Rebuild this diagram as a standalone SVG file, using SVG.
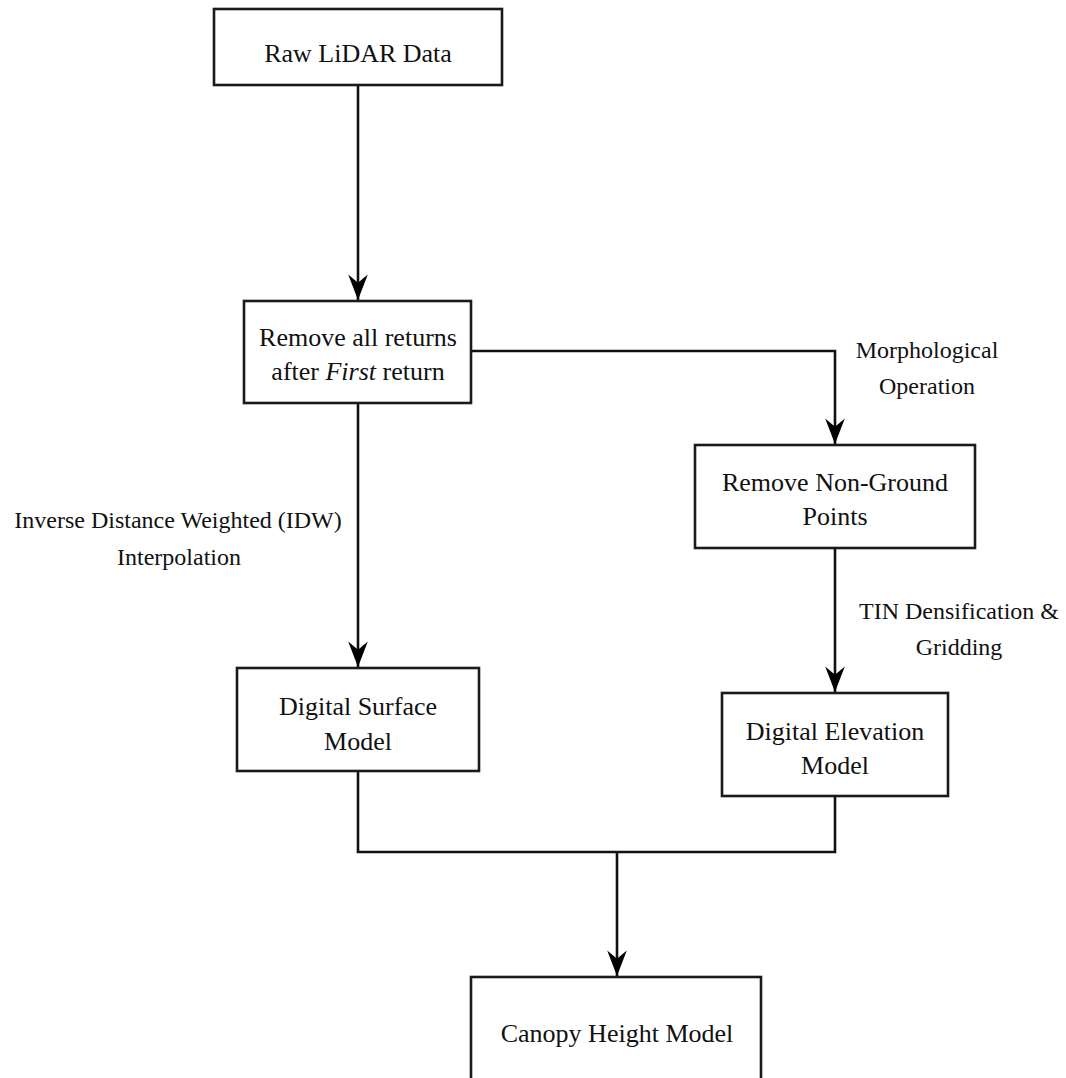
<svg xmlns="http://www.w3.org/2000/svg" width="1066" height="1078" viewBox="0 0 1066 1078">
<style>
.box{fill:#fff;stroke:#1a1a1a;stroke-width:2.6}
.t{font-family:"Liberation Serif","Times New Roman",serif;font-size:26px;fill:#111;text-anchor:middle}
.l{font-family:"Liberation Serif","Times New Roman",serif;font-size:24px;fill:#111;text-anchor:middle}
.c{fill:none;stroke:#111;stroke-width:2.6}
</style>
<defs>
<marker id="arr" markerUnits="userSpaceOnUse" markerWidth="30" markerHeight="30" viewBox="-24 -12 26 24" refX="0" refY="0" orient="auto">
<path d="M0,0 L-22,-8.5 L-15,0 L-22,8.5 Z" fill="#000"/>
</marker>
</defs>
<rect width="1066" height="1078" fill="#fff"/>
<g id="connectors">
<path class="c" d="M358,85 V300" marker-end="url(#arr)"/>
<path class="c" d="M471,351 H835 V444" marker-end="url(#arr)"/>
<path class="c" d="M358,403 V667" marker-end="url(#arr)"/>
<path class="c" d="M835,548 V692" marker-end="url(#arr)"/>
<path class="c" d="M358,771 V852 H835 V796"/>
<path class="c" d="M617,852 V976" marker-end="url(#arr)"/>
</g>
<g id="labels">
<text class="l" x="927" y="358">Morphological</text>
<text class="l" x="927" y="394">Operation</text>
<text class="l" x="178" y="528">Inverse Distance Weighted (IDW)</text>
<text class="l" x="179" y="565">Interpolation</text>
<text class="l" x="959" y="619">TIN Densification &amp;</text>
<text class="l" x="959" y="655">Gridding</text>
</g>
<g id="raw">
<rect class="box" x="214" y="9" width="288" height="76"/>
<text class="t" x="358" y="62">Raw LiDAR Data</text>
</g>
<g id="firstreturn">
<rect class="box" x="244" y="301" width="227" height="102"/>
<text class="t" x="358" y="346">Remove all returns</text>
<text class="t" x="358" y="380">after <tspan font-style="italic">First</tspan> return</text>
</g>
<g id="nonground">
<rect class="box" x="695" y="445" width="280" height="103"/>
<text class="t" x="835" y="491">Remove Non-Ground</text>
<text class="t" x="835" y="525">Points</text>
</g>
<g id="dsm">
<rect class="box" x="237" y="668" width="242" height="103"/>
<text class="t" x="358" y="715">Digital Surface</text>
<text class="t" x="358" y="750">Model</text>
</g>
<g id="dem">
<rect class="box" x="722" y="693" width="226" height="103"/>
<text class="t" x="835" y="740">Digital Elevation</text>
<text class="t" x="835" y="774">Model</text>
</g>
<g id="chm">
<rect class="box" x="471" y="977" width="290" height="130"/>
<text class="t" x="617" y="1042">Canopy Height Model</text>
</g>
</svg>
